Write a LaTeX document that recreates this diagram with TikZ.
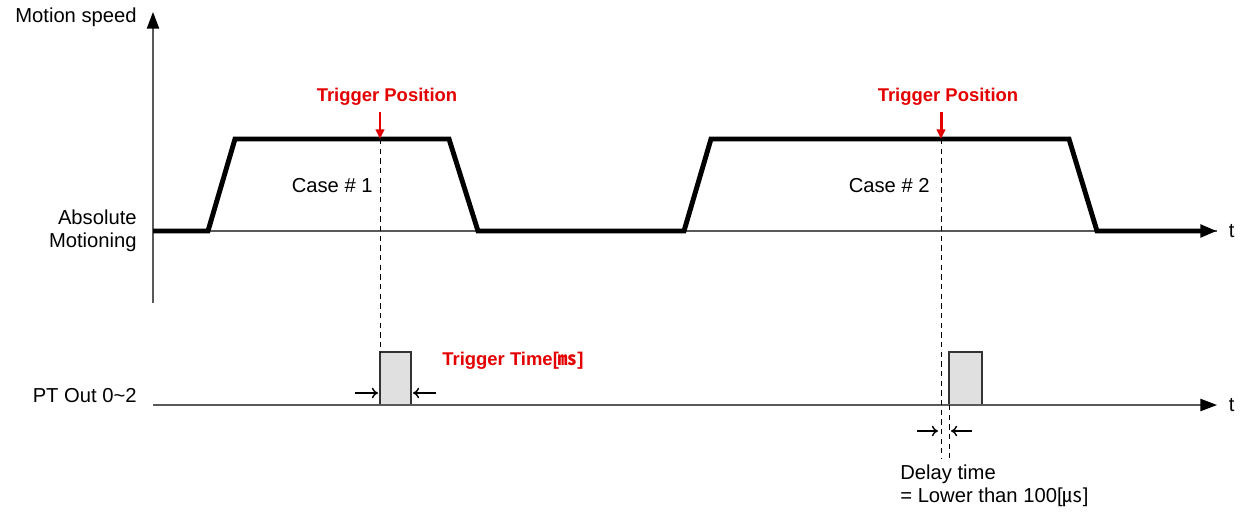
\documentclass[tikz,border=0pt]{standalone}
\usepackage{fontspec}
\setmainfont{Liberation Sans}
\newfontfamily\cjk{Noto Sans CJK KR}
\usetikzlibrary{arrows.meta}

\begin{document}
\begin{tikzpicture}[
  x=0.02cm, y=-0.02cm,
  every node/.style={inner sep=0pt, font=\fontsize{11.5}{13}\selectfont},
  axis/.style={draw=black!65, line width=0.8pt},
  axis tip/.style={-{Triangle[length=9.5pt,width=7pt,color=black]}},
  profile/.style={line width=2.8pt, line join=miter},
  guide/.style={dash pattern=on 3pt off 2.5pt, line width=0.5pt},
  pulse/.style={draw=black!80, fill=black!12, line width=0.7pt},
  trigger/.style={draw=red!90!black, line width=1.7pt, -{Triangle[length=5.5pt,width=4.8pt]}},
  redlabel/.style={text=red!90!black, font=\bfseries\fontsize{10.5}{13}\selectfont},
  gap arrow/.style={-{To[length=3.5pt,width=6pt]}, line width=0.8pt},
]
  \useasboundingbox (0,0) rectangle (1247,517);

  \coordinate (o) at (153,231);
  \coordinate (ytop) at (153,12);
  \coordinate (ybot) at (153,303);
  \coordinate (xend) at (1217,231);
  \coordinate (pt0) at (153,405);
  \coordinate (ptend) at (1217,405);
  \coordinate (tp1) at (380,139);
  \coordinate (tp2) at (941,139);
  \coordinate (p1l) at (380,405);
  \coordinate (p1r) at (411,405);
  \coordinate (p2l) at (949,405);
  \coordinate (p2r) at (982,405);

  \draw[axis, axis tip] (ybot) -- (ytop);
  \draw[axis] (o) -- (xend);
  \draw[profile, axis tip] (o) -- (208,231) -- (235,139) -- (449,139) -- (478,231)
    -- (684,231) -- (711,139) -- (1069,139) -- (1097,231) -- (xend);

  \filldraw[pulse] (p1l) -- (p1l |- 0,352) -- (p1r |- 0,352) -- (p1r);
  \filldraw[pulse] (p2l) -- (p2l |- 0,352) -- (p2r |- 0,352) -- (p2r);
  \draw[axis, axis tip] (pt0) -- (ptend);

  \node[anchor=east] (speed) at (137,17) {Motion speed};
  \node[anchor=east, align=right] (abs) at (137,231) {Absolute\\Motioning};
  \node[anchor=east] (ptout) at (137,396) {PT Out 0\textasciitilde 2};
  \node[anchor=west] (t1) at ([xshift=6.5pt]xend) {t};
  \node[anchor=west] (t2) at ([xshift=6.5pt]ptend) {t};

  \node[redlabel] (trig1) at (387,97) {Trigger Position};
  \node[redlabel] (trig2) at (948,97) {Trigger Position};
  \draw[trigger] (tp1 |- 0,112) -- (tp1);
  \draw[trigger] (tp2 |- 0,112) -- (tp2);
  \draw[guide] (tp1) -- (p1l |- 0,352);
  \draw[guide] (tp2) -- (tp2 |- 0,458);
  \draw[guide] (p2l) -- (p2l |- 0,458);

  \node[anchor=east] (case1) at (373,186) {Case \# 1};
  \node[anchor=east] (case2) at (930,186) {Case \# 2};

  \node[redlabel, anchor=west] (ttime) at (442,361) {Trigger Time[{\cjk ㎳}]};
  \draw[gap arrow] ([shift={(-25,-12)}]p1l) -- ([shift={(-2,-12)}]p1l);
  \draw[gap arrow] ([shift={(25,-12)}]p1r) -- ([shift={(2,-12)}]p1r);
  \draw[gap arrow] ([shift={(-24,26)}]tp2 |- p2l) -- ([shift={(-3,26)}]tp2 |- p2l);
  \draw[gap arrow] ([shift={(23,26)}]p2l) -- ([shift={(2,26)}]p2l);

  \node[anchor=west, align=left] (delay) at (900,486) {Delay time\\= Lower than 100[{\cjk ㎲}]};
\end{tikzpicture}
\end{document}
